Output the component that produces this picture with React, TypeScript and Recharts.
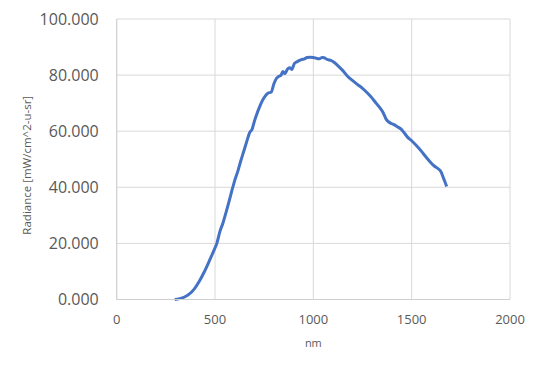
import React from 'react';
import { LineChart, Line, XAxis, YAxis, CartesianGrid, Label } from 'recharts';

const wavelengths = [
  295, 320, 345, 370, 395, 420, 445, 470, 495, 510, 525, 540, 555, 570, 585, 600, 615, 630, 645, 660,
  675, 690, 700, 711, 725, 740, 755, 770, 785, 800, 812, 825, 835, 845, 855, 868, 880, 890, 904, 920,
  939, 955, 968, 985, 1000, 1015, 1030, 1045, 1055, 1070, 1090, 1110, 1130, 1150, 1175, 1200, 1225, 1250,
  1275, 1300, 1320, 1340, 1355, 1370, 1385, 1405, 1425, 1445, 1460, 1480, 1500, 1525, 1550, 1575, 1600,
  1615, 1635, 1650, 1660, 1670, 1678,
];

const radiance = [
  0, 0.3, 0.9, 2.0, 3.8, 6.5, 9.8, 13.6, 17.6, 20.2, 24.3, 27.2, 30.8, 34.6, 38.6, 42.4, 45.5, 49.2, 52.6, 56.0,
  59.3, 61.0, 63.5, 65.8, 68.4, 70.8, 72.5, 73.6, 73.9, 77.0, 78.8, 79.6, 79.9, 81.3, 80.5, 82.1, 82.6, 82.0, 84.2, 84.9,
  85.5, 85.8, 86.3, 86.4, 86.3, 86.0, 85.8, 86.3, 86.2, 85.6, 85.2, 84.3, 83.0, 81.6, 79.5, 78.0, 76.6, 75.3,
  73.6, 71.7, 69.9, 68.2, 66.6, 64.3, 63.2, 62.5, 61.7, 60.8, 59.6, 57.8, 56.6, 54.8, 52.8, 50.6, 48.6,
  47.6, 46.6, 45.4, 43.6, 41.8, 40.3,
];

const xTicks = [0, 500, 1000, 1500, 2000];
const yTicks = [0, 20, 40, 60, 80, 100];

const data = wavelengths.map((nm, i) => ({ nm, value: radiance[i] }));

const font = '"Open Sans", sans-serif';
const textColor = '#595959';

export default function App() {
  return (
    <div style={{ position: 'absolute', left: 0, top: 0, width: 540, height: 365, background: '#fff' }}>
      <LineChart width={540} height={365} data={data} margin={{ top: 19, right: 30, left: 0, bottom: 0 }}>
        <CartesianGrid stroke="#d9d9d9" strokeWidth={1} />
        <XAxis
          dataKey="nm"
          type="number"
          domain={[0, 2000]}
          ticks={xTicks}
          height={65.5}
          tickLine={false}
          tickSize={0}
          tickMargin={15}
          axisLine={{ stroke: '#cfcfcf' }}
          tick={{ fill: textColor, fontSize: 13, fontFamily: font }}
        >
          <Label value="nm" position="insideBottom" offset={18} style={{ fill: textColor, fontSize: 11, fontFamily: font }} />
        </XAxis>
        <YAxis
          type="number"
          domain={[0, 100]}
          ticks={yTicks}
          width={116.7}
          tickLine={false}
          tickSize={0}
          tickMargin={18}
          axisLine={{ stroke: '#cfcfcf' }}
          tickFormatter={(v) => Number(v).toFixed(3)}
          tick={{ fill: textColor, fontSize: 16, fontFamily: font }}
        >
          <Label
            content={({ viewBox }: any) => {
              const cx = viewBox.x + 26;
              const cy = viewBox.y + viewBox.height / 2 + 6;
              return (
                <text
                  x={cx}
                  y={cy}
                  transform={`rotate(-90 ${cx} ${cy})`}
                  textAnchor="middle"
                  dominantBaseline="central"
                  fill={textColor}
                  fontSize={11.5}
                  fontFamily={font}
                >
                  Radiance [mW/cm^2-u-sr]
                </text>
              );
            }}
          />
        </YAxis>
        <Line
          type="monotone"
          dataKey="value"
          stroke="#4472C4"
          strokeWidth={3}
          dot={false}
          isAnimationActive={false}
        />
      </LineChart>
    </div>
  );
}
